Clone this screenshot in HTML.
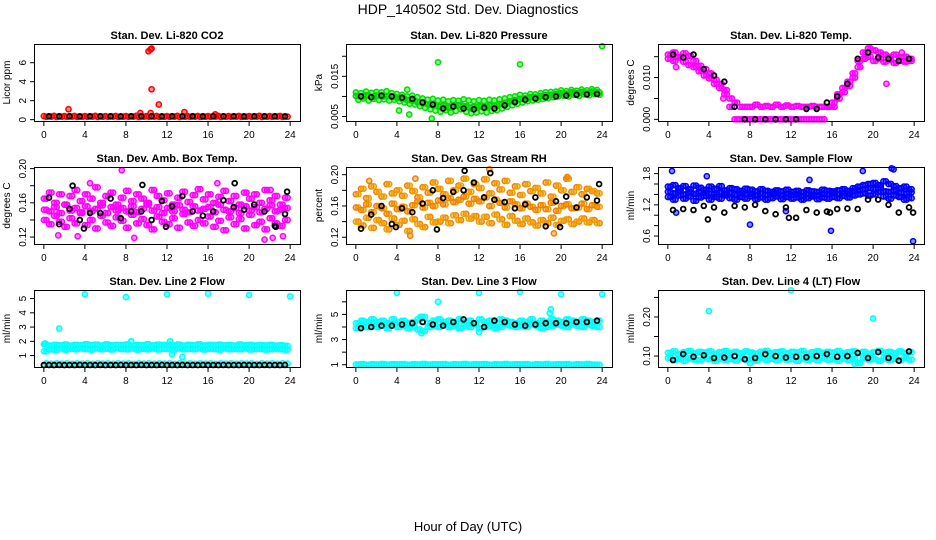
<!DOCTYPE html>
<html><head><meta charset="utf-8">
<style>
body{margin:0;background:#fff;}
svg{display:block;font-family:"Liberation Sans",sans-serif;}
</style></head>
<body>
<svg id="chart" width="936" height="540" viewBox="0 0 936 540">
<rect width="936" height="540" fill="#fff"/>
<text x="468" y="14" text-anchor="middle" font-size="14">HDP_140502  Std. Dev. Diagnostics</text>
<text x="468" y="531" text-anchor="middle" font-size="13">Hour of Day (UTC)</text>
</svg>
<script>
const halfHours=[0,0.5,1,1.5,2,2.5,3,3.5,4,4.5,5,5.5,6,6.5,7,7.5,8,8.5,9,9.5,10,10.5,11,11.5,12,12.5,13,13.5,14,14.5,15,15.5,16,16.5,17,17.5,18,18.5,19,19.5,20,20.5,21,21.5,22,22.5,23,23.5];
const qHours=[0.25,0.75,1.25,1.75,2.25,2.75,3.25,3.75,4.25,4.75,5.25,5.75,6.25,6.75,7.25,7.75,8.25,8.75,9.25,9.75,10.25,10.75,11.25,11.75,12.25,12.75,13.25,13.75,14.25,14.75,15.25,15.75,16.25,16.75,17.25,17.75,18.25,18.75,19.25,19.75,20.25,20.75,21.25,21.75,22.25,22.75,23.25,23.75];
const blackHours=[0.5,1.5,2.5,3.5,4.5,5.5,6.5,7.5,8.5,9.5,10.5,11.5,12.5,13.5,14.5,15.5,16.5,17.5,18.5,19.5,20.5,21.5,22.5,23.5];
const xTicks=[0,4,8,12,16,20,24];

// Panel 1 CO2
const co2A=[0.38,0.35,0.4,0.36,0.38,0.35,0.39,0.36,0.38,0.35,0.4,0.36,0.38,0.35,0.39,0.36,0.38,0.35,0.4,0.36,0.38,0.35,0.39,0.36,0.38,0.35,0.4,0.36,0.38,0.35,0.39,0.36,0.38,0.35,0.4,0.36,0.38,0.35,0.39,0.36,0.38,0.35,0.4,0.36,0.38,0.35,0.39,0.36];
const co2B=[0.3,0.32,0.28,0.31,0.3,0.32,0.29,0.31,0.3,0.32,0.28,0.31,0.3,0.32,0.29,0.31,0.3,0.32,0.28,0.31,0.3,0.32,0.29,0.31,0.3,0.32,0.28,0.31,0.3,0.32,0.29,0.31,0.3,0.32,0.28,0.31,0.3,0.32,0.29,0.31,0.3,0.32,0.28,0.31,0.3,0.32,0.29,0.31];
const co2OutX=[2.4,9.4,10.2,10.4,10.5,10.5,11.2,13.7,16.7,10.4];
const co2OutY=[1.1,0.7,7.2,7.4,7.5,3.2,1.6,0.8,0.55,0.7];
const co2Black=[0.35,0.35,0.36,0.34,0.35,0.35,0.36,0.34,0.35,0.36,0.35,0.34,0.35,0.35,0.36,0.34,0.35,0.35,0.36,0.34,0.35,0.36,0.35,0.34];

// Panel 2 Pressure
const presA=[0.0110,0.0108,0.0112,0.0109,0.0111,0.0110,0.0113,0.0108,0.0106,0.0104,0.0100,0.0102,0.0098,0.0095,0.0092,0.0094,0.0090,0.0092,0.0088,0.0091,0.0089,0.0093,0.0090,0.0088,0.0091,0.0089,0.0092,0.0090,0.0093,0.0095,0.0098,0.0100,0.0104,0.0102,0.0106,0.0105,0.0108,0.0110,0.0111,0.0112,0.0115,0.0113,0.0116,0.0114,0.0117,0.0115,0.0118,0.0116];
const presB=[0.0092,0.0095,0.0090,0.0094,0.0091,0.0093,0.0090,0.0092,0.0088,0.0085,0.0082,0.0080,0.0076,0.0072,0.0068,0.0065,0.0062,0.0066,0.0060,0.0064,0.0068,0.0062,0.0058,0.0060,0.0063,0.0060,0.0064,0.0066,0.0070,0.0074,0.0078,0.0082,0.0085,0.0088,0.0090,0.0092,0.0094,0.0096,0.0098,0.0100,0.0102,0.0100,0.0104,0.0101,0.0105,0.0103,0.0106,0.0104];
const presC=[0.0101,0.0100,0.0103,0.0099,0.0102,0.0100,0.0101,0.0099,0.0097,0.0094,0.0091,0.0090,0.0086,0.0083,0.0080,0.0078,0.0075,0.0078,0.0073,0.0077,0.0078,0.0076,0.0073,0.0074,0.0076,0.0074,0.0078,0.0077,0.0081,0.0084,0.0088,0.0091,0.0094,0.0095,0.0098,0.0098,0.0101,0.0103,0.0104,0.0106,0.0108,0.0107,0.0110,0.0108,0.0111,0.0109,0.0112,0.0110];
const presOutX=[8,16,24,7.4,4.2,5.2,5.0];
const presOutY=[0.0185,0.0180,0.0225,0.0045,0.0065,0.0055,0.0117];
const presBlack=[0.0100,0.0098,0.0102,0.0100,0.0097,0.0094,0.0085,0.0080,0.0070,0.0075,0.0070,0.0068,0.0072,0.0070,0.0078,0.0086,0.0092,0.0095,0.0098,0.0100,0.0102,0.0104,0.0105,0.0106];

// Panel 3 Li-820 Temp
const tempA=[0.0155,0.0160,0.0150,0.0158,0.0152,0.0140,0.0128,0.0120,0.0110,0.0095,0.0085,0.0070,0.0050,0.0040,0.0030,0.0030,0.0030,0.0035,0.0030,0.0032,0.0030,0.0035,0.0030,0.0033,0.0030,0.0032,0.0030,0.0030,0.0032,0.0030,0.0030,0.0030,0.0040,0.0060,0.0075,0.0090,0.0110,0.0140,0.0160,0.0170,0.0165,0.0160,0.0155,0.0150,0.0155,0.0148,0.0150,0.0145];
const tempB=[0.0145,0.0140,0.0148,0.0138,0.0130,0.0125,0.0115,0.0105,0.0098,0.0085,0.0075,0.0060,0.0030,0.0000,0.0000,0.0000,0.0000,0.0000,0.0000,0.0000,0.0000,0.0000,0.0000,0.0000,0.0000,0.0000,0.0000,0.0000,0.0000,0.0000,0.0000,0.0030,0.0030,0.0050,0.0065,0.0080,0.0100,0.0125,0.0145,0.0150,0.0140,0.0145,0.0138,0.0142,0.0135,0.0140,0.0138,0.0140];
const tempOutX=[0.8,21.3,22.8,5.4];
const tempOutY=[0.0125,0.0085,0.0160,0.0050];
const tempBlack=[0.0155,0.0148,0.0155,0.0120,0.0105,0.0090,0.0030,0.0000,0.0000,0.0000,0.0000,0.0000,0.0000,0.0025,0.0025,0.0040,0.0055,0.0085,0.0145,0.0160,0.0148,0.0145,0.0140,0.0145];

// Panel 4 Amb box temp
const ambA=[0.165,0.172,0.160,0.170,0.158,0.168,0.175,0.162,0.170,0.165,0.178,0.160,0.168,0.172,0.158,0.166,0.174,0.162,0.170,0.165,0.160,0.175,0.168,0.163,0.171,0.158,0.166,0.173,0.161,0.169,0.176,0.164,0.170,0.160,0.167,0.174,0.162,0.168,0.158,0.172,0.165,0.170,0.160,0.175,0.163,0.168,0.158,0.166];
const ambB=[0.140,0.135,0.145,0.138,0.132,0.142,0.136,0.148,0.134,0.140,0.130,0.145,0.137,0.133,0.143,0.139,0.131,0.146,0.136,0.141,0.134,0.129,0.144,0.138,0.135,0.142,0.131,0.147,0.137,0.133,0.140,0.136,0.144,0.132,0.139,0.128,0.143,0.135,0.141,0.130,0.146,0.134,0.138,0.129,0.142,0.136,0.133,0.140];
const ambC=[0.152,0.150,0.155,0.148,0.158,0.151,0.154,0.149,0.156,0.150,0.153,0.157,0.148,0.155,0.151,0.154,0.150,0.156,0.149,0.153,0.158,0.151,0.155,0.148,0.154,0.150,0.157,0.152,0.149,0.156,0.151,0.153,0.155,0.149,0.158,0.152,0.150,0.154,0.148,0.156,0.151,0.155,0.149,0.153,0.157,0.150,0.152,0.154];
const ambOutX=[7.6,1.4,3.3,8.8,21.5,22.3,23.3,4.5,16.9,22.1];
const ambOutY=[0.198,0.122,0.121,0.119,0.117,0.119,0.121,0.183,0.183,0.175];
const ambBlack=[0.166,0.135,0.153,0.140,0.148,0.148,0.165,0.142,0.150,0.150,0.140,0.162,0.156,0.168,0.150,0.145,0.150,0.163,0.155,0.152,0.158,0.150,0.133,0.147];
const ambBlackOutX=[2.8,9.6,18.6,23.7,3.9,11.9,22.6];
const ambBlackOutY=[0.180,0.181,0.183,0.173,0.130,0.132,0.132];

// Panel 5 Gas stream RH
const rhA=[0.175,0.182,0.170,0.185,0.178,0.172,0.188,0.176,0.180,0.173,0.186,0.179,0.171,0.184,0.177,0.190,0.182,0.175,0.192,0.180,0.186,0.195,0.178,0.188,0.183,0.194,0.176,0.189,0.181,0.192,0.177,0.185,0.174,0.188,0.179,0.183,0.176,0.190,0.172,0.186,0.180,0.195,0.178,0.184,0.175,0.182,0.179,0.176];
const rhB=[0.140,0.135,0.145,0.132,0.142,0.138,0.130,0.144,0.136,0.141,0.128,0.143,0.137,0.133,0.146,0.139,0.140,0.145,0.138,0.148,0.142,0.150,0.144,0.147,0.140,0.146,0.138,0.149,0.143,0.136,0.147,0.141,0.137,0.144,0.139,0.135,0.142,0.138,0.145,0.136,0.141,0.143,0.137,0.140,0.144,0.139,0.142,0.138];
const rhC=[0.158,0.155,0.162,0.152,0.160,0.157,0.150,0.163,0.156,0.159,0.153,0.161,0.166,0.158,0.164,0.160,0.167,0.162,0.170,0.165,0.168,0.172,0.163,0.169,0.166,0.171,0.160,0.168,0.164,0.158,0.166,0.162,0.157,0.163,0.159,0.155,0.161,0.156,0.164,0.154,0.160,0.162,0.157,0.158,0.163,0.156,0.161,0.159];
const rhOutX=[13,5.3,19.3,1.3,20.6,5.8];
const rhOutY=[0.207,0.122,0.125,0.192,0.197,0.195];
const rhBlack=[0.131,0.149,0.160,0.137,0.157,0.152,0.163,0.180,0.170,0.178,0.180,0.190,0.171,0.168,0.165,0.157,0.162,0.171,0.134,0.166,0.172,0.158,0.171,0.167];
const rhBlackOutX=[10.6,13.1,23.7,7.9,19.9,3.9];
const rhBlackOutY=[0.205,0.202,0.188,0.130,0.133,0.133];

// Panel 6 Sample flow
const flowA=[1.55,1.58,1.52,1.56,1.50,1.57,1.53,1.49,1.55,1.51,1.56,1.48,1.52,1.50,1.47,1.51,1.49,1.46,1.50,1.47,1.45,1.48,1.46,1.49,1.45,1.47,1.44,1.48,1.46,1.45,1.49,1.47,1.46,1.48,1.50,1.47,1.52,1.55,1.58,1.60,1.62,1.58,1.65,1.60,1.56,1.52,1.55,1.50];
const flowB=[1.35,1.30,1.38,1.32,1.36,1.28,1.34,1.37,1.30,1.35,1.32,1.38,1.33,1.30,1.35,1.32,1.36,1.31,1.34,1.30,1.33,1.36,1.31,1.35,1.32,1.34,1.30,1.33,1.36,1.31,1.34,1.32,1.35,1.33,1.37,1.34,1.38,1.40,1.42,1.38,1.40,1.44,1.36,1.32,1.38,1.35,1.30,1.33];
const flowC=[1.45,1.42,1.46,1.40,1.44,1.41,1.45,1.43,1.42,1.40,1.44,1.41,1.43,1.39,1.42,1.40,1.41,1.38,1.42,1.39,1.40,1.42,1.38,1.41,1.39,1.40,1.37,1.41,1.39,1.38,1.41,1.40,1.42,1.40,1.43,1.41,1.46,1.48,1.50,1.52,1.50,1.53,1.46,1.45,1.48,1.43,1.42,1.44];
const flowOutX=[0.4,3.8,13.8,19,21.8,22,8,15.9,23.9,0.8,11.5];
const flowOutY=[1.85,1.75,1.68,1.85,1.90,1.88,0.82,0.70,0.50,1.05,1.08];
const flowBlack=[1.10,1.12,1.10,1.18,1.15,1.05,1.18,1.15,1.20,1.08,1.02,1.15,0.95,1.10,1.05,1.07,1.12,1.13,1.12,1.30,1.30,1.20,1.05,1.15];
const flowBlackOutX=[3.9,11.8,15.8,23.9];
const flowBlackOutY=[0.92,0.95,1.05,1.05];

// Panel 7 Line 2 flow
const l2A=[1.8,1.7,1.75,1.72,1.78,1.7,1.76,1.73,1.8,1.74,1.77,1.71,1.79,1.72,1.76,1.74,1.78,1.7,1.75,1.73,1.8,1.71,1.77,1.74,1.76,1.72,1.78,1.7,1.75,1.73,1.79,1.71,1.76,1.74,1.77,1.72,1.75,1.7,1.78,1.73,1.76,1.71,1.74,1.72,1.75,1.7,1.73,1.68];
const l2B=[1.3,1.45,1.4,1.5,1.42,1.48,1.44,1.5,1.46,1.42,1.5,1.45,1.48,1.43,1.5,1.46,1.44,1.5,1.42,1.47,1.45,1.5,1.43,1.48,1.46,1.42,1.5,1.44,1.47,1.45,1.5,1.43,1.48,1.46,1.42,1.5,1.45,1.47,1.44,1.5,1.43,1.46,1.48,1.42,1.45,1.47,1.44,1.42];
const l2C=[0.45,0.42,0.46,0.44,0.45,0.43,0.46,0.44,0.45,0.42,0.46,0.44,0.45,0.43,0.46,0.44,0.45,0.42,0.46,0.44,0.45,0.43,0.46,0.44,0.45,0.42,0.46,0.44,0.45,0.43,0.46,0.44,0.45,0.42,0.46,0.44,0.45,0.43,0.46,0.44,0.45,0.42,0.46,0.44,0.45,0.43,0.46,0.44];
const l2OutX=[1.5,4,8,12,16,20,24,12.3,13.5,12.5,8.5,0.1];
const l2OutY=[2.9,5.3,5.1,5.3,5.35,5.25,5.15,2.0,0.9,1.1,2.0,1.85];
const l2Black=[0.33,0.34,0.33,0.35,0.33,0.34,0.33,0.35,0.33,0.34,0.33,0.35,0.33,0.34,0.33,0.35,0.33,0.34,0.33,0.35,0.33,0.34,0.33,0.35,0.33,0.34,0.33,0.35,0.33,0.34,0.33,0.35,0.33,0.34,0.33,0.35,0.33,0.34,0.33,0.35,0.33,0.34,0.33,0.35,0.33,0.34,0.33,0.35];

// Panel 8 Line 3 flow
const l3A=[4.3,4.5,4.4,4.6,4.4,4.5,4.3,4.6,4.4,4.5,4.3,4.4,4.6,4.8,4.3,4.5,4.6,4.4,4.5,4.3,4.6,4.4,4.5,4.3,4.6,4.4,4.5,4.3,4.6,4.5,4.4,4.3,4.5,4.4,4.6,4.3,4.5,4.4,4.6,4.5,4.4,4.6,4.5,4.4,4.6,4.5,4.4,4.5];
const l3B=[3.9,4.1,4.0,4.2,4.0,4.1,3.9,4.2,4.0,4.1,3.9,4.0,3.8,3.7,4.0,4.1,4.0,4.2,4.0,4.1,3.9,4.1,4.0,4.2,3.9,4.0,4.1,3.9,4.0,4.2,4.1,4.0,4.1,4.0,4.2,4.1,3.9,4.0,4.1,4.2,4.1,4.0,4.2,4.1,4.0,4.2,4.1,4.0];
const l3C=[1.02,1.05,1.0,1.04,1.02,1.06,1.01,1.04,1.03,1.05,1.0,1.04,1.02,1.06,1.01,1.04,1.03,1.05,1.0,1.04,1.02,1.06,1.01,1.04,1.03,1.05,1.0,1.04,1.02,1.06,1.01,1.04,1.03,1.05,1.0,1.04,1.02,1.06,1.01,1.04,1.03,1.05,1.0,1.04,1.02,1.06,1.01,1.0];
const l3OutX=[4,8,12,16,20,24,18.9,19,6.3,12,6.4];
const l3OutY=[6.7,6.0,6.7,6.8,6.6,6.6,5.1,5.4,4.8,3.6,3.5];
const l3Black=[3.9,4.0,4.1,4.1,4.2,4.3,4.4,4.2,4.1,4.4,4.6,4.3,4.0,4.5,4.4,4.2,4.1,4.2,4.3,4.3,4.3,4.4,4.4,4.5];

// Panel 9 Line 4 flow
const l4A=[0.108,0.112,0.105,0.110,0.113,0.107,0.111,0.109,0.112,0.106,0.110,0.113,0.108,0.111,0.107,0.112,0.109,0.106,0.111,0.113,0.108,0.110,0.112,0.107,0.111,0.109,0.113,0.106,0.110,0.112,0.108,0.111,0.109,0.113,0.107,0.110,0.112,0.108,0.111,0.106,0.110,0.113,0.109,0.111,0.107,0.112,0.108,0.110];
const l4B=[0.095,0.090,0.093,0.088,0.094,0.091,0.089,0.095,0.092,0.088,0.094,0.090,0.093,0.089,0.095,0.091,0.092,0.088,0.094,0.090,0.093,0.089,0.095,0.091,0.092,0.088,0.094,0.090,0.093,0.089,0.095,0.091,0.092,0.088,0.094,0.090,0.093,0.082,0.095,0.091,0.092,0.088,0.094,0.090,0.093,0.089,0.095,0.091];
const l4OutX=[4,12,20,18.2,8];
const l4OutY=[0.215,0.268,0.196,0.080,0.082];
const l4Black=[0.090,0.105,0.098,0.102,0.095,0.096,0.100,0.092,0.095,0.105,0.100,0.096,0.098,0.097,0.100,0.105,0.098,0.100,0.108,0.095,0.110,0.095,0.088,0.112];

const panels=[
 {name:'co2',title:'Stan. Dev. Li-820 CO2',ylab:'Licor ppm',col:0,row:0,ylim:[-0.14,7.97],ticks:[0,2,4,6],labels:['0','2','4','6'],
  series:[[halfHours,co2A,'#ff0000'],[qHours,co2B,'#ff0000'],[co2OutX,co2OutY,'#ff0000'],[blackHours,co2Black,'#000']]},
 {name:'pressure',title:'Stan. Dev. Li-820 Pressure',ylab:'kPa',col:1,row:0,ylim:[0.00389,0.02305],ticks:[0.005,0.010,0.015,0.020],labels:['0.005','','0.015',''],
  series:[[halfHours,presA,'#00dd00'],[qHours,presB,'#00dd00'],[halfHours,presC,'#00cc00'],[qHours,presC,'#00dd00'],[presOutX,presOutY,'#00dd00'],[blackHours,presBlack,'#000']]},
 {name:'li820-temp',title:'Stan. Dev. Li-820 Temp.',ylab:'degrees C',col:2,row:0,ylim:[-0.0004,0.01804],ticks:[0,0.005,0.010,0.015],labels:['0.000','','0.010',''],
  series:[[halfHours,tempA,'#ff00ff'],[qHours,tempB,'#ff00ff'],[qHours,tempA,'#ff00ff'],[halfHours,tempB,'#ff00ff'],[tempOutX,tempOutY,'#ff00ff'],[blackHours,tempBlack,'#000']]},
 {name:'amb-box-temp',title:'Stan. Dev. Amb. Box Temp.',ylab:'degrees C',col:0,row:1,ylim:[0.1119,0.2019],ticks:[0.12,0.14,0.16,0.18,0.20],labels:['0.12','','0.16','','0.20'],
  series:[[halfHours,ambA,'#ff00ff'],[qHours,ambB,'#ff00ff'],[qHours,ambC,'#ff00ff'],[halfHours,ambC,'#ff00ff'],[qHours,ambA,'#ff00ff'],[halfHours,ambB,'#ff00ff'],[ambOutX,ambOutY,'#ff00ff'],[blackHours,ambBlack,'#000'],[ambBlackOutX,ambBlackOutY,'#000']]},
 {name:'gas-stream-rh',title:'Stan. Dev. Gas Stream RH',ylab:'percent',col:1,row:1,ylim:[0.1114,0.2098],ticks:[0.12,0.14,0.16,0.18,0.20],labels:['0.12','','0.16','','0.20'],
  series:[[halfHours,rhA,'#f08000'],[qHours,rhB,'#f08000'],[qHours,rhC,'#f0a000'],[halfHours,rhC,'#f08000'],[qHours,rhA,'#f0a000'],[halfHours,rhB,'#f0a000'],[rhOutX,rhOutY,'#f08000'],[blackHours,rhBlack,'#000'],[rhBlackOutX,rhBlackOutY,'#000']]},
 {name:'sample-flow',title:'Stan. Dev. Sample Flow',ylab:'ml/min',col:2,row:1,ylim:[0.447,1.927],ticks:[0.6,0.8,1.0,1.2,1.4,1.6,1.8],labels:['0.6','','','1.2','','','1.8'],
  series:[[halfHours,flowA,'#0000ff'],[qHours,flowB,'#0000ff'],[qHours,flowC,'#0000ff'],[halfHours,flowC,'#0000ff'],[qHours,flowA,'#0000ff'],[halfHours,flowB,'#0000ff'],[flowOutX,flowOutY,'#0000ff'],[blackHours,flowBlack,'#000'],[flowBlackOutX,flowBlackOutY,'#000']]},
 {name:'line2-flow',title:'Stan. Dev. Line 2 Flow',ylab:'ml/min',col:0,row:2,ylim:[0.2,5.6],ticks:[1,2,3,4,5],labels:['1','2','3','4','5'],
  series:[[halfHours,l2A,'#00ffff'],[qHours,l2B,'#00ffff'],[qHours,l2A,'#00ffff'],[halfHours,l2B,'#00ffff'],[qHours,l2C,'#00ffff'],[l2OutX,l2OutY,'#00ffff'],[halfHours,l2Black,'#000']]},
 {name:'line3-flow',title:'Stan. Dev. Line 3 Flow',ylab:'ml/min',col:1,row:2,ylim:[0.82,6.94],ticks:[1,2,3,4,5,6],labels:['1','','3','','5',''],
  series:[[halfHours,l3A,'#00ffff'],[qHours,l3B,'#00ffff'],[qHours,l3A,'#00ffff'],[halfHours,l3B,'#00ffff'],[halfHours,l3C,'#00ffff'],[qHours,l3C,'#00ffff'],[l3OutX,l3OutY,'#00ffff'],[blackHours,l3Black,'#000']]},
 {name:'line4-flow',title:'Stan. Dev. Line 4 (LT) Flow',ylab:'ml/min',col:2,row:2,ylim:[0.072,0.269],ticks:[0.10,0.15,0.20,0.25],labels:['0.10','','0.20',''],
  series:[[halfHours,l4A,'#00ffff'],[qHours,l4B,'#00ffff'],[qHours,l4A,'#00ffff'],[halfHours,l4B,'#00ffff'],[l4OutX,l4OutY,'#00ffff'],[blackHours,l4Black,'#000']]}
];

const NS='http://www.w3.org/2000/svg';
const svg=document.getElementById('chart');
function mk(tag,attrs,parent){const e=document.createElementNS(NS,tag);for(const k in attrs)e.setAttribute(k,attrs[k]);parent.appendChild(e);return e;}
const colLeft=[34,346,658],rowTop=[44,167,290],W=266,H=77;
panels.forEach(p=>{
  const L=colLeft[p.col],T=rowTop[p.row];
  const g=mk('g',{},svg);
  
  
  const xs=h=>L+W*(h+0.96)/25.92;
  const ys=v=>T+H*(p.ylim[1]-v)/(p.ylim[1]-p.ylim[0]);
  const t=mk('text',{x:L+W/2,y:T-5,'text-anchor':'middle','font-size':'11','font-weight':'bold'},g);
  t.textContent=p.title;
  
  
  const yl=mk('text',{transform:`translate(${L-24},${T+H/2}) rotate(-90)`,'text-anchor':'middle','font-size':'10'},g);
  yl.textContent=p.ylab;
  
  
  const pts=mk('g',{fill:'none'},g);
  
  
  p.series.forEach(s=>{
    const [hx,vy,col]=s;
    const blk=col==='#000';
    for(let i=0;i<vy.length;i++){
      const c=mk('circle',{cx:xs(hx[i]).toFixed(1),cy:ys(vy[i]).toFixed(1),r:blk?2.4:2.6,stroke:col,'stroke-width':blk?1.8:1.5,fill:blk?'none':col,'fill-opacity':blk?0:0.45},pts);
      
      
    }
  });
  const box=mk('rect',{x:L+0.5,y:T+0.5,width:W,height:H,fill:'none',stroke:'#000','stroke-width':1},g);
  
  
  xTicks.forEach(h=>{
    const x=xs(h);
    const tk=mk('line',{x1:x,x2:x,y1:T+H+0.5,y2:T+H+5,stroke:'#000'},g);
    
    
    const lb=mk('text',{x:x,y:T+H+17,'text-anchor':'middle','font-size':'10'},g);
    lb.textContent=h;
    
    
  });
  p.ticks.forEach((v,i)=>{
    const y=ys(v);
    const tk=mk('line',{x1:L-4,x2:L+0.5,y1:y,y2:y,stroke:'#000'},g);
    
    
    if(p.labels[i]){
      const lb=mk('text',{transform:`translate(${L-8},${y}) rotate(-90)`,'text-anchor':'middle','font-size':'10'},g);
      lb.textContent=p.labels[i];
      
      
    }
  });
});
</script>
</body></html>
